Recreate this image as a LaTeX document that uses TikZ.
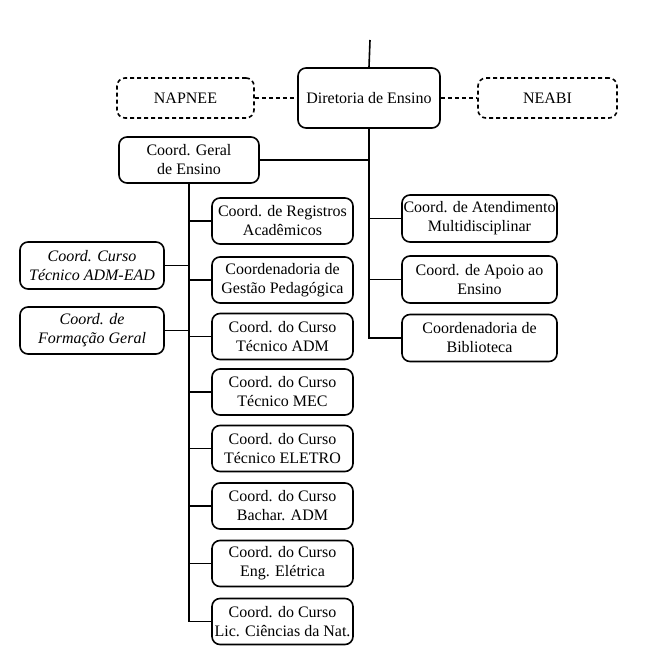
\documentclass[tikz,border=0pt]{standalone}
\usepackage{fontspec}
\setmainfont{Liberation Serif}
\begin{document}
\begin{tikzpicture}[x=1pt,y=-1pt,
  box/.style={draw, line width=1.6pt, rounded corners=8pt, align=center, inner sep=0pt,
    font=\fontsize{16}{19}\selectfont},
  dbox/.style={box, dash pattern=on 4pt off 3pt},
  midbox/.style={box, minimum width=141, minimum height=46},
  rbox/.style={box, minimum width=155, minimum height=47},
  lbox/.style={box, minimum width=144, minimum height=47, font=\fontsize{16}{19}\selectfont\itshape},
  conn/.style={line width=1.6pt},
  dconn/.style={line width=1.6pt, dash pattern=on 4pt off 3pt}]
\useasboundingbox (0,0) rectangle (649,666);
\coordinate (top) at (370,40);
\node[box, minimum width=142, minimum height=60] (dir) at (369,98) {Diretoria de Ensino};
\node[dbox, minimum width=137, minimum height=40] (nap) at (185.5,98) {NAPNEE};
\node[dbox, minimum width=139, minimum height=40] (neabi) at (547.5,98) {NEABI};
\node[box, minimum width=140, minimum height=46] (cg) at (189,160) {Coord. Geral\\de Ensino};

\node[rbox] (atend) at (479.5,218.5) {Coord. de Atendimento\\Multidisciplinar};
\node[rbox] (apoio) at (479.5,279.5) {Coord. de Apoio ao\\Ensino};
\node[rbox] (bib) at (479.5,338) {Coordenadoria de\\Biblioteca};

\node[midbox] (reg) at (282.5,221) {Coord. de Registros\\Acadêmicos};
\node[midbox] (ped) at (282.5,280) {Coordenadoria de\\Gestão Pedagógica};
\node[midbox] (adm) at (282.5,336.5) {Coord. do Curso\\Técnico ADM};
\node[midbox] (mec) at (282.5,392) {Coord. do Curso\\Técnico MEC};
\node[midbox] (ele) at (282.5,448.5) {Coord. do Curso\\Técnico ELETRO};
\node[midbox] (bach) at (282.5,506) {Coord. do Curso\\Bachar. ADM};
\node[midbox] (eng) at (282.5,563.5) {Coord. do Curso\\Eng. Elétrica};
\node[midbox] (lic) at (282.5,621.5) {Coord. do Curso\\Lic. Ciências da Nat.};

\node[lbox] (ead) at (92,265.5) {Coord. Curso\\Técnico ADM-EAD};
\node[lbox] (fg) at (92,330.5) {Coord. de\\Formação Geral};

\draw[conn] (top) -- (dir.north);
\draw[dconn] (nap.east) -- (dir.west);
\draw[dconn] (dir.east) -- (neabi.west);
\draw[conn] (dir.south) -- (dir.south |- bib.west) -- (bib.west);
\draw[conn] (atend.west) -- (atend.west -| dir.south);
\draw[conn] (apoio.west) -- (apoio.west -| dir.south);
\draw[conn] (cg.east) -- (cg.east -| dir.south);
\draw[conn] (cg.south) -- (cg.south |- lic.west) -- (lic.west);
\foreach \n in {reg,ped,adm,mec,ele,bach,eng}
  \draw[conn] (\n.west) -- (\n.west -| cg.south);
\foreach \n in {ead,fg}
  \draw[conn] (\n.east) -- (\n.east -| cg.south);
\end{tikzpicture}
\end{document}
